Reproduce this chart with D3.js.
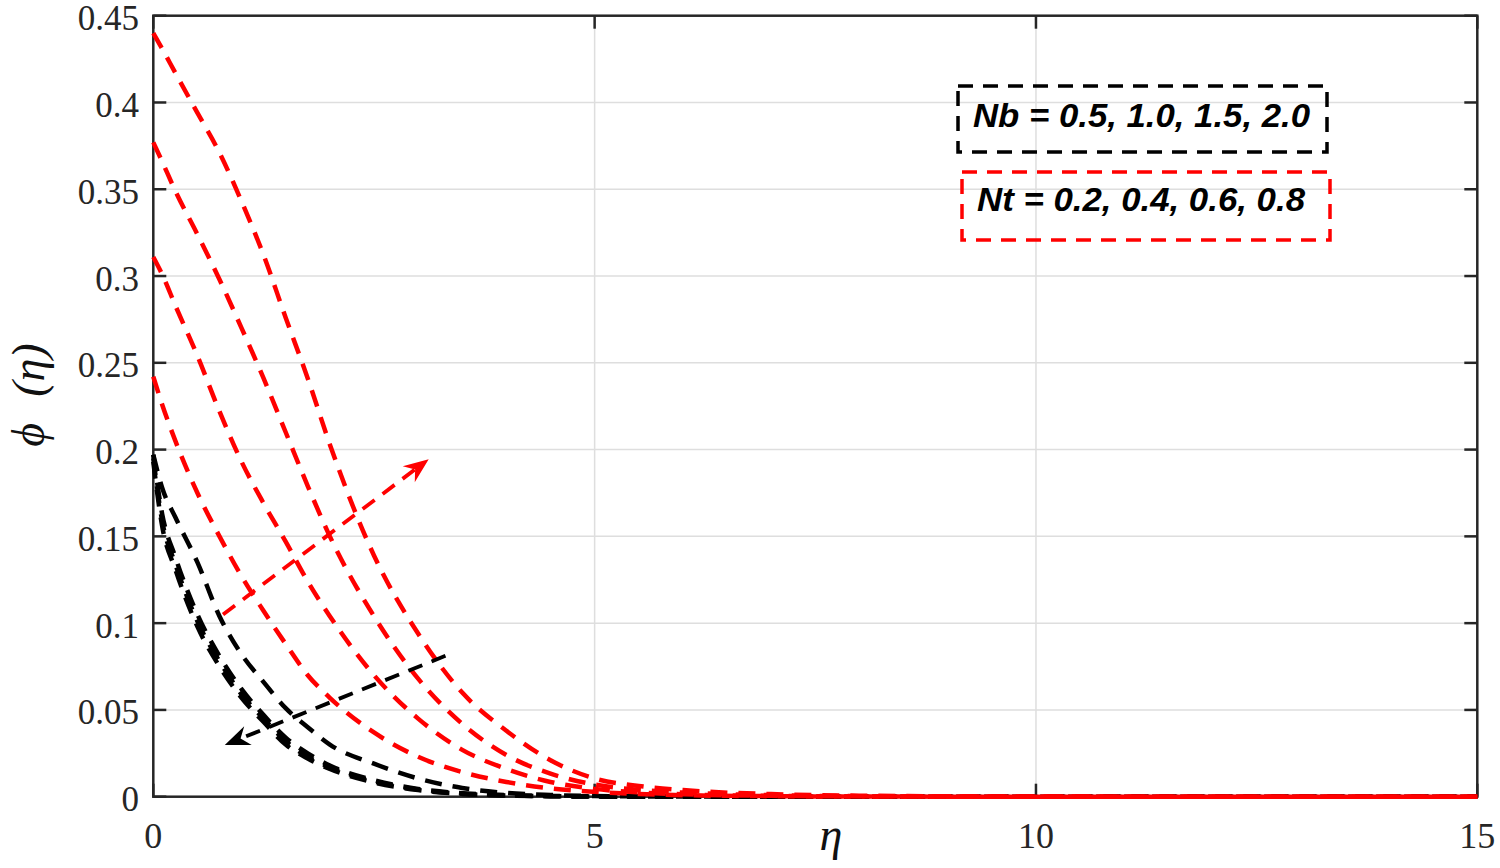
<!DOCTYPE html>
<html>
<head>
<meta charset="utf-8">
<script src="https://cdn.jsdelivr.net/npm/d3@7"></script>
<style>
  body { margin: 0; background: #fff; }
  svg { display: block; }
</style>
</head>
<body>
<svg id="chart"></svg>
<script>
// eta grid shared by every curve
const eta = [0, 0.1, 0.25, 0.5, 0.75, 1, 1.25, 1.5, 1.75, 2, 2.5, 3, 3.5, 4, 4.5, 5, 5.5, 6, 7, 8, 10, 12, 15]

// red curves, Nt = 0.2 .. 0.8
const phiNt02 = [0.242, 0.226, 0.205, 0.175, 0.150, 0.127, 0.107, 0.088, 0.070, 0.057, 0.037, 0.023, 0.0142, 0.0085, 0.0048, 0.0028, 0.0016, 0.0009, 0.0003, 0.0001, 0, 0, 0]
const phiNt04 = [0.311, 0.301, 0.283, 0.254, 0.222, 0.193, 0.169, 0.147, 0.124, 0.104, 0.070, 0.045, 0.027, 0.016, 0.0085, 0.0045, 0.0025, 0.0014, 0.0005, 0.0002, 0, 0, 0]
const phiNt06 = [0.377, 0.366, 0.349, 0.324, 0.298, 0.270, 0.241, 0.210, 0.179, 0.150, 0.104, 0.068, 0.042, 0.024, 0.0133, 0.0070, 0.0040, 0.0024, 0.0009, 0.0003, 0.0001, 0, 0]
const phiNt08 = [0.440, 0.431, 0.417, 0.394, 0.371, 0.343, 0.312, 0.276, 0.241, 0.203, 0.139, 0.094, 0.060, 0.038, 0.021, 0.0105, 0.0062, 0.0038, 0.0015, 0.0006, 0.0001, 0, 0]

// black curves, Nb = 0.5 .. 2.0
const phiNb05 = [0.197, 0.178, 0.161, 0.135, 0.104, 0.082, 0.066, 0.051, 0.040, 0.030, 0.019, 0.0105, 0.0050, 0.0022, 0.0010, 0.0004, 0.0002, 0.0001, 0, 0, 0, 0, 0]
const phiNb10 = [0.197, 0.163, 0.138, 0.105, 0.081, 0.062, 0.047, 0.034, 0.025, 0.018, 0.0095, 0.0045, 0.0020, 0.0009, 0.0004, 0.0002, 0.0001, 0, 0, 0, 0, 0, 0]
const phiNb15 = [0.195, 0.159, 0.134, 0.101, 0.078, 0.059, 0.045, 0.032, 0.023, 0.017, 0.0088, 0.0041, 0.0018, 0.0008, 0.0003, 0.0001, 0, 0, 0, 0, 0, 0, 0]
const phiNb20 = [0.193, 0.156, 0.131, 0.098, 0.075, 0.057, 0.043, 0.030, 0.022, 0.016, 0.0082, 0.0038, 0.0016, 0.0007, 0.0003, 0.0001, 0, 0, 0, 0, 0, 0, 0]

// ticks
const xTicks = [0, 5, 10, 15]
const yTicks = [0, 0.05, 0.1, 0.15, 0.2, 0.25, 0.3, 0.35, 0.4, 0.45]
const yTickLabels = ["0", "0.05", "0.1", "0.15", "0.2", "0.25", "0.3", "0.35", "0.4", "0.45"]

// annotation arrows (start, tip) in data units
const arrowNt = [[0.79, 0.105], [3.12, 0.1945]]
const arrowNb = [[3.31, 0.0812], [0.81, 0.0298]]
const labelNb = "Nb = 0.5, 1.0, 1.5, 2.0"
const labelNt = "Nt = 0.2, 0.4, 0.6, 0.8"

const W = 1500, H = 868
const svg = d3.select("#chart").attr("width", W).attr("height", H)

const x = d3.scaleLinear().domain([0, 15]).range([153.3, 1477.3])
const y = d3.scaleLinear().domain([0, 0.45]).range([796.7, 15.7])

const axisColor = "#262626"
const serif = "'Liberation Serif', 'Times New Roman', serif"

// grid
svg.append("g").selectAll("line.gx").data(xTicks.slice(1, -1)).join("line")
    .attr("x1", d => x(d)).attr("x2", d => x(d))
    .attr("y1", y(0)).attr("y2", y(0.45))
    .attr("stroke", "#dedede").attr("stroke-width", 1.5)
svg.append("g").selectAll("line.gy").data(yTicks.slice(1, -1)).join("line")
    .attr("x1", x(0)).attr("x2", x(15))
    .attr("y1", d => y(d)).attr("y2", d => y(d))
    .attr("stroke", "#dedede").attr("stroke-width", 1.5)

// axes box + inward ticks
svg.append("rect")
    .attr("x", x(0)).attr("y", y(0.45))
    .attr("width", x(15) - x(0)).attr("height", y(0) - y(0.45))
    .attr("fill", "none").attr("stroke", axisColor).attr("stroke-width", 2.5)
let tick = 13
let tg = svg.append("g").attr("stroke", axisColor).attr("stroke-width", 2.5)
yTicks.forEach(v => {
    tg.append("line").attr("x1", x(0)).attr("x2", x(0) + tick).attr("y1", y(v)).attr("y2", y(v))
    tg.append("line").attr("x1", x(15)).attr("x2", x(15) - tick).attr("y1", y(v)).attr("y2", y(v))
})
xTicks.forEach(v => {
    tg.append("line").attr("x1", x(v)).attr("x2", x(v)).attr("y1", y(0)).attr("y2", y(0) - tick)
    tg.append("line").attr("x1", x(v)).attr("x2", x(v)).attr("y1", y(0.45)).attr("y2", y(0.45) + tick)
})

// tick labels
svg.append("g").selectAll("text").data(yTicks).join("text")
    .attr("x", 139).attr("y", d => y(d) + 3)
    .attr("text-anchor", "end").attr("dominant-baseline", "central")
    .attr("font-family", serif).attr("font-size", 35).attr("fill", "#262626")
    .text((d, i) => yTickLabels[i])
svg.append("g").selectAll("text").data(xTicks).join("text")
    .attr("x", d => x(d)).attr("y", 848)
    .attr("text-anchor", "middle")
    .attr("font-family", serif).attr("font-size", 36).attr("fill", "#262626")
    .text(d => d)

// axis titles
svg.append("text")
    .attr("x", 831).attr("y", 850).attr("text-anchor", "middle")
    .attr("font-family", serif).attr("font-style", "italic").attr("font-size", 46)
    .attr("fill", "#111").text("η")
let yl = svg.append("text")
    .attr("transform", "translate(44,395) rotate(-90)")
    .attr("text-anchor", "middle")
    .attr("font-family", serif).attr("font-style", "italic").attr("font-size", 46)
    .attr("fill", "#111")
yl.append("tspan").text("ϕ")
yl.append("tspan").attr("dx", 26).text("(η)")

// curves
let line = d3.line()
    .x(d => x(d[0]))
    .y(d => y(d[1]))
    .curve(d3.curveMonotoneX)

function drawCurve(values, color) {
    svg.append("path")
        .datum(eta.map((e, i) => [e, values[i]]))
        .attr("d", line)
        .attr("fill", "none")
        .attr("stroke", color)
        .attr("stroke-width", 4.5)
        .attr("stroke-dasharray", "17,11")
}
;[phiNb05, phiNb10, phiNb15, phiNb20].forEach(v => drawCurve(v, "#000"))
;[phiNt02, phiNt04, phiNt06, phiNt08].forEach(v => drawCurve(v, "#ff0000"))

// arrows
function drawArrow(pts, color) {
    let x0 = x(pts[0][0]), y0 = y(pts[0][1])
    let x1 = x(pts[1][0]), y1 = y(pts[1][1])
    let ang = Math.atan2(y1 - y0, x1 - x0)
    let len = Math.hypot(x1 - x0, y1 - y0)
    let g = svg.append("g").attr("transform", `translate(${x0},${y0}) rotate(${ang * 180 / Math.PI})`)
    g.append("line").attr("x1", 0).attr("y1", 0).attr("x2", len - 16).attr("y2", 0)
        .attr("stroke", color).attr("stroke-width", 3.8).attr("stroke-dasharray", "15,10")
    g.append("path")
        .attr("d", `M${len},0 L${len - 25},-10 L${len - 17},0 L${len - 25},10 Z`)
        .attr("fill", color)
}
drawArrow(arrowNt, "#ff0000")
drawArrow(arrowNb, "#000")

// legend boxes
const sans = "'Liberation Sans', Arial, sans-serif"
svg.append("rect").attr("x", 958).attr("y", 86).attr("width", 369).attr("height", 66)
    .attr("fill", "none").attr("stroke", "#000").attr("stroke-width", 3.5).attr("stroke-dasharray", "15,10")
svg.append("text").attr("x", 973).attr("y", 127)
    .attr("textLength", 337).attr("lengthAdjust", "spacingAndGlyphs")
    .attr("font-family", sans).attr("font-weight", "bold").attr("font-style", "italic")
    .attr("font-size", 34).attr("fill", "#000").text(labelNb)
svg.append("rect").attr("x", 962).attr("y", 172).attr("width", 368).attr("height", 68)
    .attr("fill", "none").attr("stroke", "#ff0000").attr("stroke-width", 3.5).attr("stroke-dasharray", "15,10")
svg.append("text").attr("x", 977).attr("y", 211)
    .attr("textLength", 328).attr("lengthAdjust", "spacingAndGlyphs")
    .attr("font-family", sans).attr("font-weight", "bold").attr("font-style", "italic")
    .attr("font-size", 34).attr("fill", "#000").text(labelNt)
</script>
</body>
</html>
